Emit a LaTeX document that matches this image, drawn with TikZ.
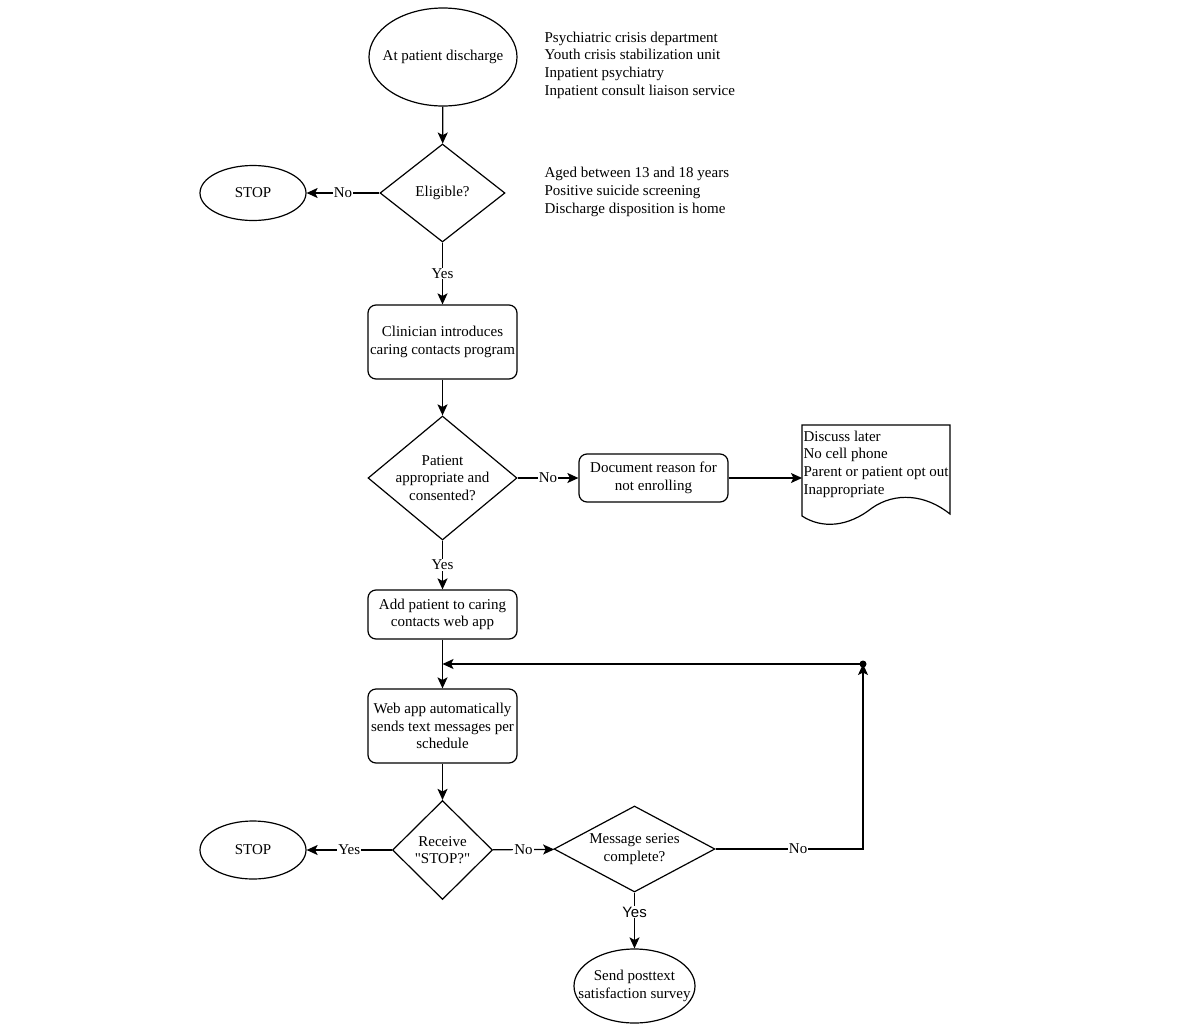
\documentclass[tikz,border=0pt]{standalone}
\usepackage{fontspec}
\setmainfont{Liberation Serif}[Ligatures=TeXOff]
\newfontfamily\helv{Liberation Sans}
\usetikzlibrary{shapes.geometric,arrows.meta}

\begin{document}
\begin{tikzpicture}[x=1pt,y=-1pt,
	font=\fontsize{15}{17.7}\selectfont,
	line width=1.2pt,
	arrow/.style={-{Stealth[length=11pt,width=10pt,inset=2.5pt]}},
	terminal/.style={draw,ellipse,inner sep=0pt},
	process/.style={draw,rounded corners=8pt,minimum width=149pt,inner sep=0pt,align=center},
	decision/.style={draw,diamond,inner sep=0pt},
	answer/.style={fill=white,inner sep=1pt},
	sidetext/.style={anchor=west,align=left,inner sep=0pt},
	]
	\useasboundingbox (0,0) rectangle (1200,1028);
	%Node coordinate
	\coordinate (discharge) at (443,57) ;
	\coordinate (eligible) at (442.5,193) ;
	\coordinate (stop1) at (253,193) ;
	\coordinate (intro) at (442.5,342) ;
	\coordinate (consent) at (442.5,478) ;
	\coordinate (reason) at (653.5,478) ;
	\coordinate (addpatient) at (442.5,614.5) ;
	\coordinate (webapp) at (442.5,726) ;
	\coordinate (receive) at (442.5,850) ;
	\coordinate (stop2) at (253,850) ;
	\coordinate (series) at (634.5,849) ;
	\coordinate (survey) at (634.5,986) ;
	\coordinate (loopdot) at (863,664) ;
	\coordinate (loopin) at (442.5,664) ;

	%Nodes
	\node[terminal,minimum width=148pt,minimum height=98pt,label={center:At patient discharge}] (dischargebox) at (discharge) {};
	\node[decision,minimum width=125pt,minimum height=98pt,label={[align=center]center:Eligible?}] (eligiblebox) at (eligible) {};
	\node[terminal,minimum width=106pt,minimum height=55pt,label={center:STOP}] (stop1box) at (stop1) {};
	\node[process,minimum height=74pt] (introbox) at (intro) {Clinician introduces\\caring contacts program};
	\node[decision,minimum width=149pt,minimum height=124pt,label={[align=center]center:Patient\\appropriate and\\consented?}] (consentbox) at (consent) {};
	\node[process,minimum height=48pt] (reasonbox) at (reason) {Document reason for\\not enrolling};
	\node[process,minimum height=49pt] (addpatientbox) at (addpatient) {Add patient to caring\\contacts web app};
	\node[process,minimum height=74pt] (webappbox) at (webapp) {Web app automatically\\sends text messages per\\schedule};
	\node[decision,minimum width=100pt,minimum height=99pt,label={[align=center]center:Receive\\"STOP?"}] (receivebox) at (receive) {};
	\node[terminal,minimum width=106pt,minimum height=58pt,label={center:STOP}] (stop2box) at (stop2) {};
	\node[decision,minimum width=161pt,minimum height=86pt,label={[align=center]center:Message series\\complete?}] (seriesbox) at (series) {};
	\node[terminal,minimum width=121pt,minimum height=74pt,label={[align=center]center:Send posttext\\satisfaction survey}] (surveybox) at (survey) {};

	%Text
	\node[sidetext] (units) at (544,65) {Psychiatric crisis department\\Youth crisis stabilization unit\\Inpatient psychiatry\\Inpatient consult liaison service};
	\node[sidetext] (criteria) at (544,192) {Aged between 13 and 18 years\\Positive suicide screening\\Discharge disposition is home};
	\node[anchor=north west,align=left,inner sep=0pt] (reasons) at (803,430) {Discuss later\\No cell phone\\Parent or patient opt out\\Inappropriate};
	\draw (802,425) -- (950,425) -- (950,514)
		.. controls (925,494) and (895,492) .. (872,508)
		.. controls (848,527) and (822,529) .. (802,516) -- cycle;

	%Lines
	\draw[arrow] (dischargebox) -- (eligiblebox);
	\draw[arrow] (eligiblebox) -- node[answer]{No} (stop1box);
	\draw[arrow] (eligiblebox) -- node[answer]{Yes} (introbox);
	\draw[arrow] (introbox) -- (consentbox);
	\draw[arrow] (consentbox) -- node[answer]{No} (reasonbox);
	\draw[arrow] (reasonbox.east) -- (reasonbox.east -| 802,0);
	\draw[arrow] (consentbox) -- node[answer]{Yes} (addpatientbox);
	\draw[arrow] (addpatientbox) -- (webappbox);
	\draw[arrow] (webappbox) -- (receivebox);
	\draw[arrow] (receivebox) -- node[answer]{Yes} (stop2box);
	\draw[arrow] (receivebox) -- node[answer]{No} (seriesbox);
	\draw[arrow] (seriesbox) -- node[answer,pos=0.35]{\helv Yes} (surveybox);
	\draw[arrow] (seriesbox.east) -| node[answer,pos=0.28]{No} (loopdot);
	\draw[arrow] (loopdot) -- (loopin);
	\fill (loopdot) circle (3.5pt);
\end{tikzpicture}
\end{document}
